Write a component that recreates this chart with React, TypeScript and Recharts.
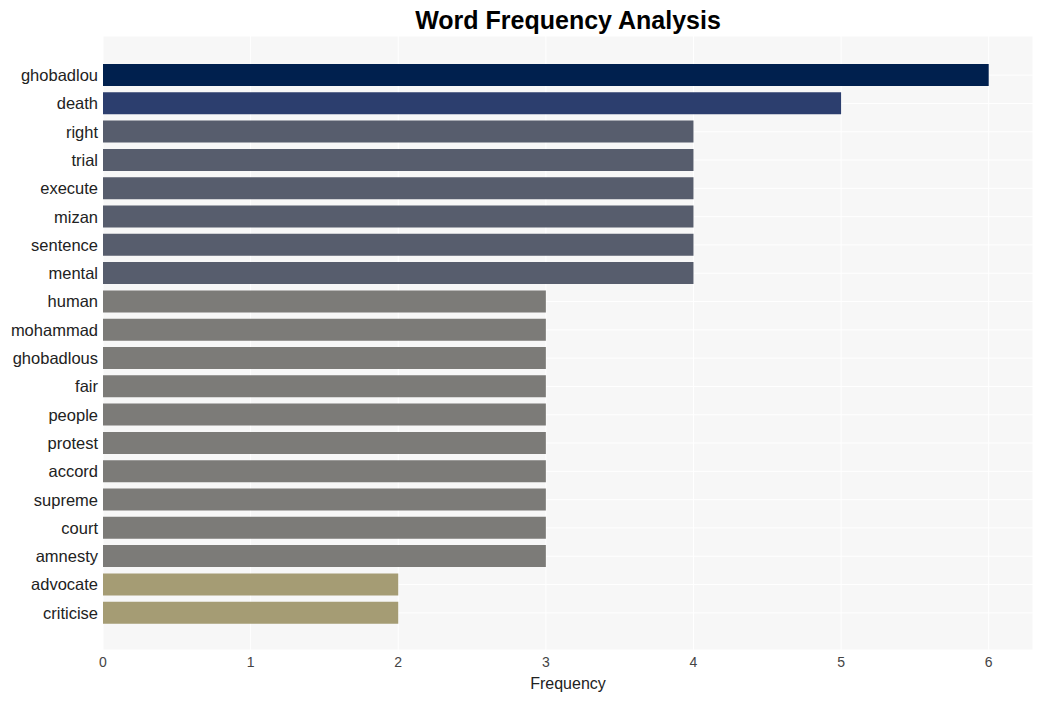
import { BarChart, Bar, XAxis, YAxis, CartesianGrid, Cell } from "recharts"

const words = [
  "ghobadlou", "death", "right", "trial", "execute", "mizan", "sentence", "mental",
  "human", "mohammad", "ghobadlous", "fair", "people", "protest", "accord", "supreme",
  "court", "amnesty", "advocate", "criticise",
]
const counts = [6, 5, 4, 4, 4, 4, 4, 4, 3, 3, 3, 3, 3, 3, 3, 3, 3, 3, 2, 2]
const xTicks = [0, 1, 2, 3, 4, 5, 6]

const data = words.map((word, i) => ({ word, count: counts[i] }))

// colour steps by frequency
const colorFor = (v: number) => {
  if (v >= 6) return "#00204e"
  if (v === 5) return "#2c3e6e"
  if (v === 4) return "#575d6d"
  if (v === 3) return "#7c7b78"
  return "#a59c74"
}

const font = "Liberation Sans, Arial, sans-serif"

export default function App() {
  return (
    <div style={{ position: "relative", width: 1043, height: 701, fontFamily: font }}>
      <style>{"body{margin:0}"}</style>
      <div
        style={{
          position: "absolute",
          top: 4,
          left: 103,
          width: 930,
          textAlign: "center",
          fontSize: 25,
          fontWeight: "bold",
          color: "#000",
          lineHeight: "32px",
        }}
      >
        Word Frequency Analysis
      </div>
      <BarChart
        width={1043}
        height={701}
        data={data}
        layout="vertical"
        margin={{ top: 36, right: 10, bottom: 0, left: 0 }}
        barSize={22}
      >
        <CartesianGrid fill="#f7f7f7" fillOpacity={1} stroke="#ffffff" strokeWidth={1} />
        <XAxis
          type="number"
          domain={[0, 6.3]}
          ticks={xTicks}
          axisLine={false}
          tickLine={false}
          tickSize={0}
          tickMargin={7}
          height={51}
          tick={{ fontSize: 14, fill: "#444", fontFamily: font }}
          label={{
            value: "Frequency",
            position: "insideBottom",
            offset: 12,
            style: { fontSize: 16, fill: "#222", fontFamily: font },
          }}
        />
        <YAxis
          type="category"
          dataKey="word"
          width={103}
          axisLine={false}
          tickLine={false}
          tickSize={0}
          tickMargin={5}
          padding={{ top: 25, bottom: 23 }}
          interval={0}
          tick={{ fontSize: 16.5, fill: "#222", fontFamily: font }}
        />
        <Bar dataKey="count" isAnimationActive={false}>
          {data.map((d) => (
            <Cell key={d.word} fill={colorFor(d.count)} />
          ))}
        </Bar>
      </BarChart>
    </div>
  )
}
